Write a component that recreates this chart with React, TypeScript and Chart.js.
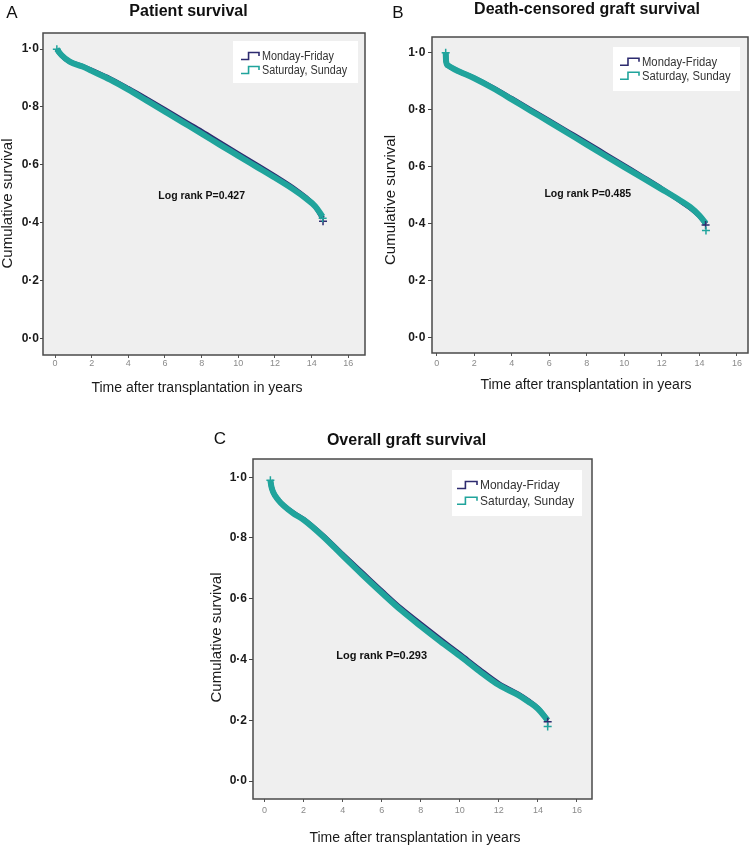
import { useEffect, useRef } from 'react';
import { Chart, registerables } from 'chart.js';

Chart.register(...registerables);

const FONT = '"Liberation Sans", Arial, Helvetica, sans-serif';
const SERIES = ['Monday-Friday', 'Saturday, Sunday'];
const NAVY = '#2d2b6f';
const TEAL = '#20a49c';
const COLORS = [NAVY, TEAL];
const X_TICKS = [0, 2, 4, 6, 8, 10, 12, 14, 16];
const Y_TICKS = [0, 0.2, 0.4, 0.6, 0.8, 1.0];
const X_TITLE = 'Time after transplantation in years';
const Y_TITLE = 'Cumulative survival';

// Panel A – Patient survival
const A_TIME = [0.1, 0.35, 0.8, 1.5, 2, 3, 4, 5, 6, 7, 8, 9, 10, 11, 12, 13, 13.7, 14.2, 14.6];
const A_MF = [1.0, 0.979, 0.957, 0.941, 0.927, 0.898, 0.864, 0.828, 0.791, 0.753, 0.716, 0.677, 0.638, 0.6, 0.561, 0.52, 0.486, 0.456, 0.415];
const A_SS = [1.0, 0.98, 0.957, 0.94, 0.925, 0.895, 0.86, 0.822, 0.784, 0.746, 0.708, 0.669, 0.631, 0.593, 0.555, 0.515, 0.483, 0.456, 0.42];
const A_CENS_MF_T = [14.62];
const A_CENS_MF_S = [0.405];
const A_CENS_SS_T = [0.1, 14.6];
const A_CENS_SS_S = [1.0, 0.415];

// Panel B – Death-censored graft survival
const B_TIME = [0.48, 0.5, 0.6, 1, 2, 3, 4, 5, 6, 7, 8, 9, 10, 11, 12, 13, 13.5, 14, 14.35];
const B_MF = [1.0, 0.97, 0.955, 0.94, 0.911, 0.877, 0.839, 0.8, 0.761, 0.722, 0.683, 0.643, 0.603, 0.563, 0.522, 0.478, 0.455, 0.427, 0.398];
const B_SS = [1.0, 0.97, 0.955, 0.94, 0.91, 0.875, 0.836, 0.796, 0.757, 0.717, 0.677, 0.637, 0.598, 0.559, 0.52, 0.48, 0.458, 0.428, 0.4];
const B_CENS_MF_T = [14.33];
const B_CENS_MF_S = [0.395];
const B_CENS_SS_T = [0.48, 14.35];
const B_CENS_SS_S = [1.0, 0.375];

// Panel C – Overall graft survival
const C_TIME = [0.3, 0.35, 0.45, 0.7, 1, 1.5, 2, 3, 4, 5, 6, 7, 8, 9, 10, 11, 12, 13, 13.5, 14, 14.5];
const C_MF = [0.99, 0.97, 0.95, 0.926, 0.906, 0.882, 0.862, 0.808, 0.746, 0.686, 0.626, 0.568, 0.517, 0.467, 0.418, 0.368, 0.321, 0.286, 0.265, 0.24, 0.2];
const C_SS = [0.99, 0.97, 0.95, 0.925, 0.905, 0.88, 0.86, 0.805, 0.742, 0.68, 0.62, 0.562, 0.51, 0.46, 0.412, 0.362, 0.316, 0.283, 0.262, 0.238, 0.2];
const C_CENS_MF_T = [14.5];
const C_CENS_MF_S = [0.195];
const C_CENS_SS_T = [0.3, 14.5];
const C_CENS_SS_S = [0.99, 0.18];

const PANELS = [
  {
    key: 'A', title: 'Patient survival', logText: 'Log rank P=0.427',
    time: A_TIME, mf: A_MF, ss: A_SS,
    cmT: A_CENS_MF_T, cmS: A_CENS_MF_S, csT: A_CENS_SS_T, csS: A_CENS_SS_S,
    left: 0, top: 0, w: 376, h: 400,
    yW: 43, padT: 33, padR: 11, xH: 30, padB: 15,
    xMin: -0.655, xMax: 16.91, yMin: -0.058, yMax: 1.056,
    yTL: 3, yPad: 1, xPad: 0,
    logAt: [8.0, 0.492], logFont: 10.5,
    letterAt: [12, 13], titleAt: [188.5, 12], xTitleAt: [197, 388], yTitleAt: [8.3, 203.5],
    legend: { right: 7, top: 8, w: 125, h: 42, padL: 8, row0: 15, rowGap: 14, font: 12, sx: 0.9, icon: 18 },
  },
  {
    key: 'B', title: 'Death-censored graft survival', logText: 'Log rank P=0.485',
    time: B_TIME, mf: B_MF, ss: B_SS,
    cmT: B_CENS_MF_T, cmS: B_CENS_MF_S, csT: B_CENS_SS_T, csS: B_CENS_SS_S,
    left: 376, top: 0, w: 376, h: 400,
    yW: 56, padT: 37, padR: 4, xH: 30, padB: 17,
    xMin: -0.25, xMax: 16.59, yMin: -0.055, yMax: 1.055,
    yTL: 4, yPad: 2.5, xPad: 2.6,
    logAt: [8.05, 0.503], logFont: 10.5,
    letterAt: [22, 13], titleAt: [211, 10], xTitleAt: [210, 385], yTitleAt: [15, 200],
    legend: { right: 8, top: 10, w: 127, h: 44, padL: 7, row0: 14.7, rowGap: 14, font: 12.5, sx: 0.9, icon: 19 },
  },
  {
    key: 'C', title: 'Overall graft survival', logText: 'Log rank P=0.293',
    time: C_TIME, mf: C_MF, ss: C_SS,
    cmT: C_CENS_MF_T, cmS: C_CENS_MF_S, csT: C_CENS_SS_T, csS: C_CENS_SS_S,
    left: 190, top: 420, w: 410, h: 427,
    yW: 63, padT: 39, padR: 8, xH: 30, padB: 18,
    xMin: -0.59, xMax: 16.77, yMin: -0.059, yMax: 1.06,
    yTL: 4, yPad: 2, xPad: 3.3,
    logAt: [6.0, 0.411], logFont: 11,
    letterAt: [30, 19], titleAt: [216.5, 20.7], xTitleAt: [225, 418], yTitleAt: [26.7, 217.5],
    legend: { right: 10, top: 11, w: 130, h: 46, padL: 5, row0: 15, rowGap: 15.7, font: 13, sx: 0.92, icon: 20 },
  },
];

const deco = {
  id: 'deco',
  beforeDraw(chart: any) {
    const { ctx, chartArea: ca } = chart;
    ctx.save();
    ctx.fillStyle = '#efefef';
    ctx.fillRect(ca.left, ca.top, ca.right - ca.left, ca.bottom - ca.top);
    ctx.restore();
  },
  afterDatasetsDraw(chart: any, _a: any, o: any) {
    const { ctx, chartArea: ca, scales } = chart;
    ctx.save();
    ctx.fillStyle = '#111';
    ctx.textAlign = 'center';
    ctx.textBaseline = 'middle';
    ctx.font = `bold ${o.logFont}px ${FONT}`;
    ctx.fillText(o.logText, scales.x.getPixelForValue(o.logAt[0]), scales.y.getPixelForValue(o.logAt[1]));

    const L = o.legend;
    const bx = ca.right - L.right - L.w;
    const by = ca.top + L.top;
    ctx.fillStyle = '#ffffff';
    ctx.fillRect(bx, by, L.w, L.h);
    ctx.font = `${L.font}px ${FONT}`;
    ctx.textAlign = 'left';
    SERIES.forEach((name, i) => {
      const y = by + L.row0 + i * L.rowGap;
      const x0 = bx + L.padL;
      ctx.strokeStyle = COLORS[i];
      ctx.lineWidth = 1.6;
      ctx.beginPath();
      ctx.moveTo(x0, y + 3.5);
      ctx.lineTo(x0 + L.icon * 0.42, y + 3.5);
      ctx.lineTo(x0 + L.icon * 0.42, y - 3.5);
      ctx.lineTo(x0 + L.icon, y - 3.5);
      ctx.lineTo(x0 + L.icon, y);
      ctx.stroke();
      ctx.save();
      ctx.translate(x0 + L.icon + 3, y + 0.5);
      ctx.scale(L.sx, 1);
      ctx.fillStyle = '#333';
      ctx.fillText(name, 0, 0);
      ctx.restore();
    });

    ctx.strokeStyle = '#4a4a4a';
    ctx.lineWidth = 1.5;
    ctx.strokeRect(ca.left, ca.top, ca.right - ca.left, ca.bottom - ca.top);
    ctx.restore();
  },
  afterDraw(chart: any, _a: any, o: any) {
    const { ctx } = chart;
    ctx.save();
    ctx.fillStyle = '#111';
    ctx.textAlign = 'center';
    ctx.textBaseline = 'middle';
    ctx.font = `17px ${FONT}`;
    ctx.fillText(o.letter, o.letterAt[0], o.letterAt[1]);
    ctx.font = `bold 16px ${FONT}`;
    ctx.fillText(o.title, o.titleAt[0], o.titleAt[1]);
    ctx.fillStyle = '#1a1a1a';
    ctx.font = `14px ${FONT}`;
    ctx.fillText(X_TITLE, o.xTitleAt[0], o.xTitleAt[1]);
    ctx.font = `15px ${FONT}`;
    ctx.translate(o.yTitleAt[0], o.yTitleAt[1]);
    ctx.rotate(-Math.PI / 2);
    ctx.fillText(Y_TITLE, 0, 0);
    ctx.restore();
  },
};

function Panel({ p }: { p: any }) {
  const ref = useRef<HTMLCanvasElement>(null);
  useEffect(() => {
    const pts = (ts: number[], vs: number[]) => ts.map((t, i) => ({ x: t, y: vs[i] }));
    const chart = new Chart(ref.current as HTMLCanvasElement, {
      type: 'line',
      data: {
        datasets: [
          {
            label: SERIES[1] + ' censored', data: pts(p.csT, p.csS), showLine: false,
            pointStyle: 'cross', pointRadius: 4, pointBorderWidth: 1.5,
            borderColor: TEAL, backgroundColor: TEAL, order: 0,
          },
          {
            label: SERIES[0] + ' censored', data: pts(p.cmT, p.cmS), showLine: false,
            pointStyle: 'cross', pointRadius: 4, pointBorderWidth: 1.5,
            borderColor: NAVY, backgroundColor: NAVY, order: 0,
          },
          {
            label: SERIES[1], data: pts(p.time, p.ss), borderColor: TEAL, borderWidth: 6,
            pointRadius: 0, fill: false, cubicInterpolationMode: 'monotone', order: 1,
          },
          {
            label: SERIES[0], data: pts(p.time, p.mf), borderColor: NAVY, borderWidth: 5,
            pointRadius: 0, fill: false, cubicInterpolationMode: 'monotone', order: 2,
          },
        ] as any,
      },
      options: {
        animation: false,
        responsive: false,
        devicePixelRatio: 1,
        layout: { autoPadding: false, padding: { left: 0, top: p.padT, right: p.padR, bottom: p.padB } },
        plugins: {
          legend: { display: false },
          tooltip: { enabled: false },
          deco: {
            letter: p.key, title: p.title, logText: p.logText, logAt: p.logAt, logFont: p.logFont,
            letterAt: p.letterAt, titleAt: p.titleAt, xTitleAt: p.xTitleAt, yTitleAt: p.yTitleAt,
            legend: p.legend,
          },
        } as any,
        scales: {
          x: {
            type: 'linear', min: p.xMin, max: p.xMax,
            afterBuildTicks: (s: any) => { s.ticks = X_TICKS.map((v) => ({ value: v })); },
            afterFit: (s: any) => { s.height = p.xH; },
            ticks: { font: { size: 9, family: FONT }, color: '#8a8a8a', padding: p.xPad, maxRotation: 0, autoSkip: false, callback: (v: any) => String(v) },
            grid: { display: true, drawOnChartArea: false, drawTicks: true, tickLength: 3, color: '#555' },
            border: { display: false },
          },
          y: {
            type: 'linear', min: p.yMin, max: p.yMax,
            afterBuildTicks: (s: any) => { s.ticks = Y_TICKS.map((v) => ({ value: v })); },
            afterFit: (s: any) => { s.width = p.yW; },
            ticks: {
              font: { size: 12, weight: 'bold', family: FONT }, color: '#1a1a1a', padding: p.yPad, autoSkip: false,
              callback: (v: any) => Number(v).toFixed(1).replace('.', '\u00b7'),
            },
            grid: { display: true, drawOnChartArea: false, drawTicks: true, tickLength: p.yTL, color: '#444' },
            border: { display: false },
          },
        } as any,
      },
      plugins: [deco as any],
    });
    return () => chart.destroy();
  }, []);
  return (
    <canvas
      ref={ref}
      width={p.w}
      height={p.h}
      style={{ position: 'absolute', left: p.left, top: p.top, width: p.w, height: p.h, display: 'block' }}
    />
  );
}

export default function App() {
  return (
    <div style={{ position: 'absolute', left: 0, top: 0, width: 752, height: 847, background: '#ffffff', overflow: 'hidden' }}>
      {PANELS.map((p) => (
        <Panel key={p.key} p={p} />
      ))}
    </div>
  );
}
